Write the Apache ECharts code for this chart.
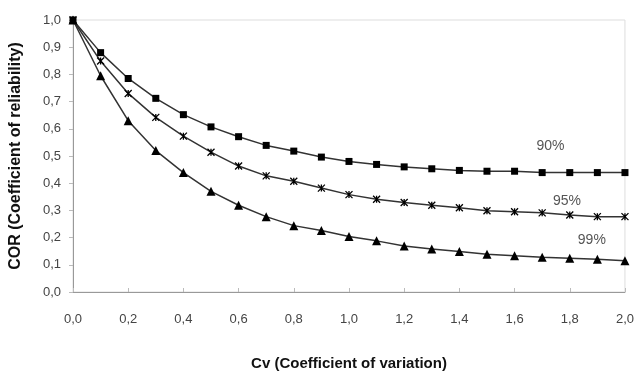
<!DOCTYPE html>
<html>
<head>
<meta charset="utf-8">
<script src="https://cdn.jsdelivr.net/npm/echarts@6/dist/echarts.min.js"></script>
<style>
  html, body { margin: 0; padding: 0; background: #fff; }
  #container { width: 637px; height: 376px; }
</style>
</head>
<body>
<div id="container"></div>
<script>
var dom = document.getElementById('container');
var myChart = echarts.init(dom, null, { renderer: 'canvas' });

// Cv values, 0.0 .. 2.0 step 0.1
var cv = [0.0, 0.1, 0.2, 0.3, 0.4, 0.5, 0.6, 0.7, 0.8, 0.9, 1.0,
          1.1, 1.2, 1.3, 1.4, 1.5, 1.6, 1.7, 1.8, 1.9, 2.0];

// COR
var cor90 = [1.0, 0.880, 0.785, 0.712, 0.652, 0.607, 0.571, 0.539, 0.518, 0.496, 0.480,
             0.469, 0.460, 0.453, 0.447, 0.444, 0.444, 0.439, 0.439, 0.439, 0.439];
var cor95 = [1.0, 0.849, 0.730, 0.642, 0.573, 0.514, 0.463, 0.427, 0.407, 0.382, 0.358,
             0.341, 0.329, 0.319, 0.310, 0.299, 0.295, 0.291, 0.283, 0.277, 0.277];
var cor99 = [1.0, 0.795, 0.630, 0.520, 0.439, 0.370, 0.319, 0.277, 0.244, 0.226, 0.204,
             0.188, 0.169, 0.158, 0.149, 0.139, 0.133, 0.128, 0.124, 0.120, 0.115];

// curve labels: [text, x, y] in data units
var curveLabels = [['90%', 1.73, 0.535], ['95%', 1.79, 0.333], ['99%', 1.88, 0.19]];

var starPath = 'path://M0,0L10,10M10,0L0,10M5,0L5,10';

function pairs(ys) {
    return cv.map(function (x, i) { return [x, ys[i]]; });
}

function fmt(v) {
    return v.toFixed(1).replace('.', ',');
}

function mkSeries(name, ys, symbol, size, lbl) {
    return {
        name: name,
        type: 'line',
        data: pairs(ys),
        symbol: symbol,
        symbolSize: size,
        showAllSymbol: true,
        lineStyle: { color: '#333', width: 1.5 },
        itemStyle: { color: '#000', borderColor: '#000', borderWidth: symbol === starPath ? 1.3 : 0 },
        markPoint: {
            symbol: 'circle',
            symbolSize: 0,
            label: {
                show: true,
                formatter: lbl[0],
                color: '#555',
                fontFamily: 'Liberation Sans',
                fontSize: 14
            },
            data: [{ coord: [lbl[1], lbl[2]] }]
        },
        z: 3
    };
}

var option = {
    backgroundColor: '#fff',
    animation: false,
    grid: { left: 72, right: 10, top: 20, bottom: 82, show: true, borderColor: '#ddd', borderWidth: 1 },
    xAxis: {
        type: 'value',
        min: 0, max: 2.0, interval: 0.2,
        name: 'Cv (Coefficient of variation)',
        nameLocation: 'middle',
        nameGap: 64,
        nameTextStyle: { fontFamily: 'Liberation Sans', fontWeight: 'bold', fontSize: 15, color: '#111' },
        axisLine: { lineStyle: { color: '#999' } },
        axisTick: { inside: true, length: 4, lineStyle: { color: '#bbb' } },
        axisLabel: { formatter: fmt, color: '#444', fontFamily: 'Liberation Sans', fontSize: 13, margin: 21 },
        splitLine: { show: false }
    },
    yAxis: {
        type: 'value',
        min: 0, max: 1.0, interval: 0.1,
        name: 'COR (Coefficient of reliability)',
        nameLocation: 'middle',
        nameGap: 49,
        nameTextStyle: { fontFamily: 'Liberation Sans', fontWeight: 'bold', fontSize: 16, color: '#111' },
        axisLine: { show: true, lineStyle: { color: '#999' } },
        axisTick: { show: true, length: 4, lineStyle: { color: '#bbb' } },
        axisLabel: { formatter: fmt, color: '#444', fontFamily: 'Liberation Sans', fontSize: 13, margin: 12 },
        splitLine: { show: false }
    },
    series: [
        mkSeries('90%', cor90, 'rect', 7, curveLabels[0]),
        mkSeries('95%', cor95, starPath, 7, curveLabels[1]),
        mkSeries('99%', cor99, 'triangle', 9, curveLabels[2])
    ]
};

myChart.setOption(option);
</script>
</body>
</html>
